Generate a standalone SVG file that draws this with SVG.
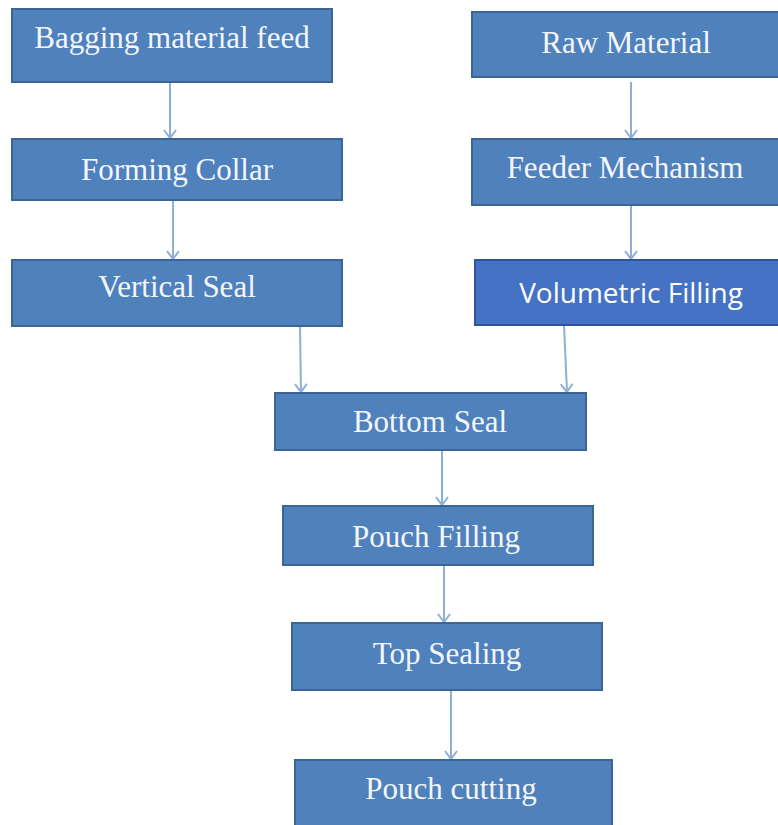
<svg xmlns="http://www.w3.org/2000/svg" width="778" height="825" viewBox="0 0 778 825">
<style>
.box{fill:#4F81BD;stroke:#3A6595;stroke-width:2}
.box2{fill:#4472C4;stroke:#2F5597;stroke-width:2}
.t{font-family:"Liberation Serif","Times New Roman",serif;font-size:31px;fill:#F4F6FA;text-anchor:middle}
.t2{font-family:"Open Sans","Liberation Sans",sans-serif;font-size:28px;fill:#FFFFFF;text-anchor:middle}
.c{stroke:#8DB0D8;stroke-width:2;fill:none;marker-end:url(#ah)}
</style>
<defs>
<marker id="ah" markerWidth="10" markerHeight="14" refX="9" refY="7" orient="auto" markerUnits="userSpaceOnUse" viewBox="0 0 10 14">
<path d="M1,1 L9,7 L1,13" fill="none" stroke="#8DB0D8" stroke-width="2"/>
</marker>
</defs>
<rect width="778" height="825" fill="#FFFFFF"/>
<g id="connectors">
<line class="c" x1="170" y1="82" x2="170" y2="138"/>
<line class="c" x1="173" y1="200" x2="173" y2="259"/>
<line class="c" x1="631" y1="82" x2="631" y2="138"/>
<line class="c" x1="631" y1="205" x2="631" y2="259"/>
<line class="c" x1="300" y1="326" x2="301" y2="392"/>
<line class="c" x1="564" y1="325" x2="567" y2="392"/>
<line class="c" x1="442" y1="450" x2="442" y2="505"/>
<line class="c" x1="444" y1="565" x2="444" y2="622"/>
<line class="c" x1="451" y1="690" x2="451" y2="759"/>
</g>
<g id="bagging"><rect class="box" x="12" y="9" width="320" height="73"/><text class="t" x="172" y="48">Bagging material feed</text></g>
<g id="forming"><rect class="box" x="12" y="139" width="330" height="61"/><text class="t" x="177" y="180">Forming Collar</text></g>
<g id="vertical"><rect class="box" x="12" y="260" width="330" height="66"/><text class="t" x="177" y="297">Vertical Seal</text></g>
<g id="raw"><rect class="box" x="472" y="12" width="310" height="65"/><text class="t" x="626" y="53">Raw Material</text></g>
<g id="feeder"><rect class="box" x="472" y="139" width="310" height="66"/><text class="t" x="625" y="178">Feeder Mechanism</text></g>
<g id="volumetric"><rect class="box2" x="475" y="260" width="307" height="65"/><text class="t2" x="631" y="303">Volumetric Filling</text></g>
<g id="bottom"><rect class="box" x="275" y="393" width="311" height="57"/><text class="t" x="430" y="432">Bottom Seal</text></g>
<g id="pouchfill"><rect class="box" x="283" y="506" width="310" height="59"/><text class="t" x="436" y="547">Pouch Filling</text></g>
<g id="top"><rect class="box" x="292" y="623" width="310" height="67"/><text class="t" x="447" y="664">Top Sealing</text></g>
<g id="cutting"><rect class="box" x="295" y="760" width="317" height="70"/><text class="t" x="451" y="799">Pouch cutting</text></g>
</svg>
